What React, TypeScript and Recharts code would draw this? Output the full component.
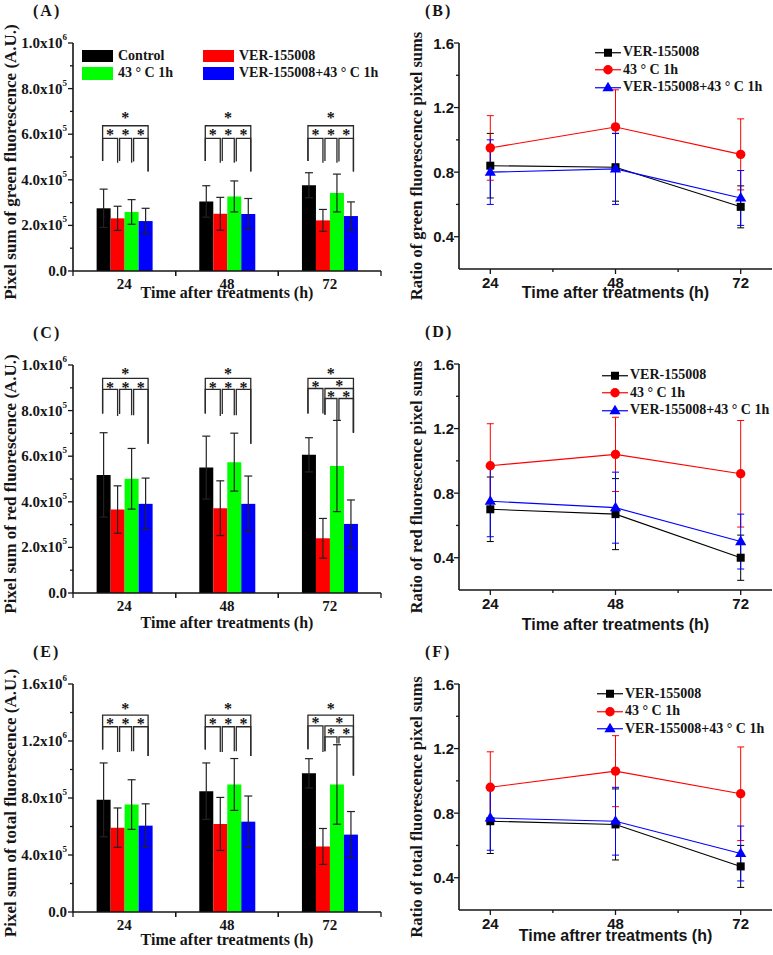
import React from 'react';
import { BarChart, Bar, LineChart, Line, XAxis, YAxis, ErrorBar, Legend } from 'recharts';

const SERIF = '"Liberation Serif", "Times New Roman", serif';
const SANS = '"Liberation Sans", Arial, sans-serif';
const INK = '#151515';

// ---------- data ----------
const TIME_LABELS = ['24', '48', '72'];
const HOURS = [24, 48, 72];

const BAR_NAMES = ['Control', 'VER-155008', '43 ° C 1h', 'VER-155008+43 ° C 1h'];
const BAR_COLORS = ['#000000', '#ff0000', '#00ff00', '#0000ff'];

// (A) pixel sum of green fluorescence
const greenControl = [275000, 305000, 376000];
const greenControlSd = [84000, 69000, 55000];
const greenVer = [231000, 251000, 222000];
const greenVerSd = [53000, 72000, 48000];
const greenHeat = [259000, 327000, 342000];
const greenHeatSd = [54000, 68000, 83000];
const greenCombo = [219000, 250000, 241000];
const greenComboSd = [56000, 68000, 62000];

// (C) pixel sum of red fluorescence
const redControl = [518000, 550000, 606000];
const redControlSd = [185000, 138000, 75000];
const redVer = [366000, 372000, 240000];
const redVerSd = [104000, 120000, 87000];
const redHeat = [501000, 574000, 557000];
const redHeatSd = [133000, 127000, 200000];
const redCombo = [391000, 391000, 303000];
const redComboSd = [113000, 122000, 105000];

// (E) pixel sum of total fluorescence
const totalControl = [787000, 848000, 973000];
const totalControlSd = [259000, 198000, 103000];
const totalVer = [592000, 618000, 460000];
const totalVerSd = [138000, 186000, 126000];
const totalHeat = [754000, 895000, 895000];
const totalHeatSd = [174000, 182000, 279000];
const totalCombo = [606000, 634000, 543000];
const totalComboSd = [153000, 180000, 162000];

const LINE_NAMES = ['VER-155008', '43 ° C 1h', 'VER-155008+43 ° C 1h'];
const LINE_COLORS = ['#000000', '#ff0000', '#0000ff'];

// (B) ratio of green fluorescence pixel sums
const greenRatioVer = [0.84, 0.83, 0.585];
const greenRatioVerSd = [0.2, 0.21, 0.13];
const greenRatioHeat = [0.95, 1.08, 0.91];
const greenRatioHeatSd = [0.2, 0.23, 0.22];
const greenRatioCombo = [0.8, 0.82, 0.64];
const greenRatioComboSd = [0.2, 0.22, 0.17];

// (D) ratio of red fluorescence pixel sums
const redRatioVer = [0.7, 0.67, 0.4];
const redRatioVerSd = [0.2, 0.22, 0.14];
const redRatioHeat = [0.97, 1.04, 0.92];
const redRatioHeatSd = [0.26, 0.23, 0.33];
const redRatioCombo = [0.75, 0.71, 0.5];
const redRatioComboSd = [0.22, 0.22, 0.17];

// (F) ratio of total fluorescence pixel sums
const totalRatioVer = [0.75, 0.73, 0.47];
const totalRatioVerSd = [0.2, 0.22, 0.13];
const totalRatioHeat = [0.96, 1.06, 0.92];
const totalRatioHeatSd = [0.22, 0.22, 0.29];
const totalRatioCombo = [0.77, 0.75, 0.55];
const totalRatioComboSd = [0.2, 0.21, 0.17];

const TICKS_1M = [0, 100000, 200000, 300000, 400000, 500000, 600000, 700000, 800000, 900000, 1000000];
const TICKS_16M = [0, 200000, 400000, 600000, 800000, 1000000, 1200000, 1400000, 1600000];
const RATIO_TICKS = [0.4, 0.6, 0.8, 1.0, 1.2, 1.4, 1.6];
const HOUR_TICKS = [24, 36, 48, 60, 72];

// significance brackets: bar indices, line level, star level, leg ends (data units)
type Bracket = { from: number; to: number; line: number; star: number; legs: number[] };

const bracketsA: Bracket[] = [
  { from: 0, to: 3, line: 637000, star: 684000, legs: [482000, 436000] },
  { from: 0, to: 1, line: 582000, star: 607000, legs: [482000, 475000] },
  { from: 1, to: 2, line: 582000, star: 607000, legs: [482000, 475000] },
  { from: 2, to: 3, line: 582000, star: 607000, legs: [480000, 436000] },
];
const bracketsC: Bracket[] = [
  { from: 0, to: 3, line: 941000, star: 970000, legs: [787000, 655000] },
  { from: 0, to: 1, line: 893000, star: 912000, legs: [787000, 776000] },
  { from: 1, to: 2, line: 893000, star: 912000, legs: [785000, 780000] },
  { from: 2, to: 3, line: 893000, star: 912000, legs: [780000, 655000] },
];
const bracketsC72: Bracket[] = [
  { from: 0, to: 3, line: 941000, star: 970000, legs: [787000, 703000] },
  { from: 0, to: 1, line: 897000, star: 915000, legs: [787000, 787000] },
  { from: 1, to: 3, line: 897000, star: 918000, legs: [782000, 703000] },
  { from: 1, to: 2, line: 853000, star: 872000, legs: [782000, 757000] },
  { from: 2, to: 3, line: 853000, star: 872000, legs: [757000, 703000] },
];
const bracketsE: Bracket[] = [
  { from: 0, to: 3, line: 1381000, star: 1440000, legs: [1140000, 1095000] },
  { from: 0, to: 1, line: 1300000, star: 1335000, legs: [1140000, 1123000] },
  { from: 1, to: 2, line: 1300000, star: 1335000, legs: [1123000, 1128000] },
  { from: 2, to: 3, line: 1300000, star: 1335000, legs: [1128000, 1095000] },
];
const bracketsE72: Bracket[] = [
  { from: 0, to: 3, line: 1381000, star: 1440000, legs: [1142000, 958000] },
  { from: 0, to: 1, line: 1306000, star: 1341000, legs: [1142000, 1123000] },
  { from: 1, to: 3, line: 1306000, star: 1343000, legs: [1128000, 958000] },
  { from: 1, to: 2, line: 1229000, star: 1264000, legs: [1128000, 1182000] },
  { from: 2, to: 3, line: 1229000, star: 1264000, legs: [1182000, 958000] },
];

const barRows = (
  c: number[], cs: number[], v: number[], vs: number[],
  h: number[], hs: number[], k: number[], ks: number[],
) =>
  TIME_LABELS.map((time, i) => ({
    time,
    control: c[i], controlSd: cs[i],
    ver: v[i], verSd: vs[i],
    heat: h[i], heatSd: hs[i],
    combo: k[i], comboSd: ks[i],
  }));

const lineRows = (v: number[], vs: number[], h: number[], hs: number[], k: number[], ks: number[]) =>
  HOURS.map((hour, i) => ({ hour, ver: v[i], verSd: vs[i], heat: h[i], heatSd: hs[i], combo: k[i], comboSd: ks[i] }));

const greenBars = barRows(greenControl, greenControlSd, greenVer, greenVerSd, greenHeat, greenHeatSd, greenCombo, greenComboSd);
const redBars = barRows(redControl, redControlSd, redVer, redVerSd, redHeat, redHeatSd, redCombo, redComboSd);
const totalBars = barRows(totalControl, totalControlSd, totalVer, totalVerSd, totalHeat, totalHeatSd, totalCombo, totalComboSd);

const greenRatio = lineRows(greenRatioVer, greenRatioVerSd, greenRatioHeat, greenRatioHeatSd, greenRatioCombo, greenRatioComboSd);
const redRatio = lineRows(redRatioVer, redRatioVerSd, redRatioHeat, redRatioHeatSd, redRatioCombo, redRatioComboSd);
const totalRatio = lineRows(totalRatioVer, totalRatioVerSd, totalRatioHeat, totalRatioHeatSd, totalRatioCombo, totalRatioComboSd);

// ---------- layout ----------
const BAR_W = 390;
const BAR_H = 314;
const BAR_MARGIN = { top: 43, right: 9, bottom: 0, left: 0 };
const BAR_YW = 73;
const BAR_PLOT_H = 228;
const BAND = (BAR_W - BAR_YW - BAR_MARGIN.right) / 3;

const LINE_W = 383;
const LINE_H = 314;
const LINE_MARGIN = { top: 43, right: 1, bottom: 0, left: 0 };
const LINE_YW = 69;
const LINE_PLOT_H = 226;

const axisLine = { stroke: INK, strokeWidth: 1.6 };

// ---------- ticks ----------
const sciTick = (majorStep: number) => (p: any) => {
  const { x, y, payload } = p;
  const v = payload.value;
  const major = Math.abs(v / majorStep - Math.round(v / majorStep)) < 1e-6;
  let label: React.ReactNode = null;
  if (major) {
    const common = { x: x - 6, y: y + 5, textAnchor: 'end' as const, fontFamily: SERIF, fontWeight: 'bold', fontSize: 15, fill: INK };
    if (v === 0) {
      label = <text {...common}>0.0</text>;
    } else {
      const e = Math.floor(Math.log10(v) + 1e-9);
      const m = (v / Math.pow(10, e)).toFixed(1);
      label = (
        <text {...common}>
          {m}x10
          <tspan dy={-8} fontSize={9}>{e}</tspan>
        </text>
      );
    }
  }
  return (
    <g>
      <line x1={x - (major ? 5 : 3)} x2={x} y1={y} y2={y} stroke={INK} strokeWidth={1.3} />
      {label}
    </g>
  );
};

const ratioTick = (p: any) => {
  const { x, y, payload } = p;
  const v = payload.value;
  const major = Math.round(v * 10) % 4 === 0;
  return (
    <g>
      <line x1={x - (major ? 5 : 3)} x2={x} y1={y} y2={y} stroke={INK} strokeWidth={1.3} />
      {major && (
        <text x={x - 5} y={y + 5.5} textAnchor="end" fontFamily={SANS} fontWeight="bold" fontSize={15} fill={INK}>
          {v.toFixed(1)}
        </text>
      )}
    </g>
  );
};

const bandTick = (p: any) => {
  const { x, y, payload } = p;
  return (
    <g>
      <line x1={x - BAND / 2} x2={x - BAND / 2} y1={y} y2={y + 5} stroke={INK} strokeWidth={1.3} />
      <line x1={x + BAND / 2} x2={x + BAND / 2} y1={y} y2={y + 5} stroke={INK} strokeWidth={1.3} />
      <text x={x} y={y + 18} textAnchor="middle" fontFamily={SERIF} fontWeight="bold" fontSize={15} fill={INK}>
        {payload.value}
      </text>
    </g>
  );
};

const hourTick = (p: any) => {
  const { x, y, payload } = p;
  const major = payload.value % 24 === 0;
  return (
    <g>
      <line x1={x} x2={x} y1={y} y2={y + (major ? 5 : 3)} stroke={INK} strokeWidth={1.3} />
      {major && (
        <text x={x} y={y + 18.5} textAnchor="middle" fontFamily={SANS} fontWeight="bold" fontSize={15} fill={INK}>
          {payload.value}
        </text>
      )}
    </g>
  );
};

const xTitle = (text: string, family: string, dy: number) => ({
  content: (p: any) => {
    const vb = p.viewBox;
    return (
      <text x={vb.x + vb.width / 2} y={vb.y + dy} textAnchor="middle" fontFamily={family} fontWeight="bold" fontSize={16} fill={INK}>
        {text}
      </text>
    );
  },
});

const yTitle = (text: string, cx: number, shift: number, size: number) => ({
  content: (p: any) => {
    const vb = p.viewBox;
    const cy = vb.y + vb.height / 2 + shift;
    return (
      <text
        x={cx}
        y={cy}
        transform={`rotate(-90 ${cx} ${cy})`}
        textAnchor="middle"
        dominantBaseline="central"
        fontFamily={SERIF}
        fontWeight="bold"
        fontSize={size}
        fill={INK}
      >
        {text}
      </text>
    );
  },
});

// ---------- marks ----------
const comboShape = (groups: Bracket[][]) => (p: any) => {
  const { x, y, width, height, index, payload } = p;
  const base = y + height;
  const perUnit = height / payload.combo;
  const yv = (v: number) => base - v * perUnit;
  const cx = (i: number) => x + width / 2 - (3 - i) * width;
  const startX = (i: number) => cx(i) + (i === 0 ? -1 : 2);
  const endX = (i: number) => cx(i) + (i === 3 ? 2.5 : 0);
  return (
    <g>
      <rect x={x} y={y} width={width} height={height} fill={BAR_COLORS[3]} />
      {(groups[index] || []).map((b, j) => {
        const x1 = startX(b.from);
        const x2 = endX(b.to);
        return (
          <g key={j}>
            <path
              d={`M${x1},${yv(b.legs[0])}V${yv(b.line)}H${x2}V${yv(b.legs[1])}`}
              fill="none"
              stroke="#2a2a2a"
              strokeWidth={1.3}
            />
            <text x={(x1 + x2) / 2} y={yv(b.star) + 7.5} textAnchor="middle" fontFamily={SERIF} fontWeight="bold" fontSize={16} fill={INK}>
              *
            </text>
          </g>
        );
      })}
    </g>
  );
};

const marker = (i: number, cx: number, cy: number, key?: string) => {
  if (i === 0) return <rect key={key} x={cx - 4} y={cy - 4} width={8} height={8} fill={LINE_COLORS[0]} />;
  if (i === 1) return <circle key={key} cx={cx} cy={cy} r={4.7} fill={LINE_COLORS[1]} />;
  return <path key={key} d={`M${cx},${cy - 6}L${cx + 5.6},${cy + 3.6}L${cx - 5.6},${cy + 3.6}Z`} fill={LINE_COLORS[2]} />;
};

const dotFor = (i: number) => (p: any) => marker(i, p.cx, p.cy, `m${i}-${p.index}`);

// ---------- legends ----------
const barLegend = () => (
  <div style={{ display: 'grid', gridTemplateColumns: '121px 180px', fontFamily: SERIF, fontWeight: 'bold', fontSize: 14, color: INK }}>
    {BAR_NAMES.map((n, i) => (
      <div key={n} style={{ display: 'flex', alignItems: 'center', height: 17.5 }}>
        <span style={{ display: 'inline-block', width: 31, height: 12.5, background: BAR_COLORS[i], marginRight: 5 }} />
        <span style={{ whiteSpace: 'nowrap' }}>{n}</span>
      </div>
    ))}
  </div>
);

const lineLegend = () => (
  <div style={{ fontFamily: SERIF, fontWeight: 'bold', fontSize: 14, color: INK }}>
    {LINE_NAMES.map((n, i) => (
      <div key={n} style={{ display: 'flex', alignItems: 'center', height: 17.5 }}>
        <svg width={26} height={17.5} style={{ display: 'block' }}>
          <line x1={0} x2={26} y1={8.75} y2={8.75} stroke={LINE_COLORS[i]} strokeWidth={1.2} />
          {marker(i, 13, 8.75)}
        </svg>
        <span style={{ marginLeft: 2, whiteSpace: 'nowrap' }}>{n}</span>
      </div>
    ))}
  </div>
);

// ---------- panels ----------
const letterStyle = (left: number, top: number): React.CSSProperties => ({
  position: 'absolute',
  left,
  top,
  fontFamily: SERIF,
  fontWeight: 'bold',
  fontSize: 16,
  lineHeight: '16px',
  letterSpacing: 2,
  color: INK,
  zIndex: 2,
});

type BarPanelProps = {
  top: number;
  letter: string;
  data: any[];
  yMax: number;
  ticks: number[];
  majorStep: number;
  title: string;
  brackets: Bracket[][];
  legend?: boolean;
  xTitleDy: number;
};

function BarPanel({ top, letter, data, yMax, ticks, majorStep, title, brackets, legend, xTitleDy }: BarPanelProps) {
  const keys = ['control', 'ver', 'heat'];
  return (
    <div style={{ position: 'absolute', left: 0, top, width: BAR_W, height: BAR_H }}>
      <div style={letterStyle(33, 2.5)}>({letter})</div>
      <BarChart width={BAR_W} height={BAR_H} data={data} margin={BAR_MARGIN} barCategoryGap="23%" barGap={0}>
        <XAxis
          dataKey="time"
          interval={0}
          tickLine={false}
          tickSize={0}
          tickMargin={0}
          height={BAR_H - BAR_MARGIN.top - BAR_PLOT_H}
          axisLine={axisLine}
          tick={bandTick}
          label={xTitle('Time after treatments (h)', SERIF, xTitleDy)}
        />
        <XAxis xAxisId="frame" orientation="top" dataKey="time" height={0} tick={false} tickLine={false} axisLine={axisLine} />
        <YAxis
          domain={[0, yMax]}
          ticks={ticks}
          interval={0}
          width={BAR_YW}
          tickLine={false}
          tickSize={0}
          tickMargin={0}
          axisLine={axisLine}
          tick={sciTick(majorStep)}
          label={yTitle(title, 10, 5, 17)}
        />
        <YAxis yAxisId="frame" orientation="right" width={0} domain={[0, 1]} tick={false} tickLine={false} axisLine={axisLine} />
        {legend && (
          <Legend
            layout="horizontal"
            verticalAlign="middle"
            align="center"
            content={barLegend}
            wrapperStyle={{ left: 82, top: 47, width: 301 }}
          />
        )}
        {keys.map((k, i) => (
          <Bar key={k} dataKey={k} name={BAR_NAMES[i]} fill={BAR_COLORS[i]} isAnimationActive={false}>
            <ErrorBar dataKey={`${k}Sd`} width={4} stroke="#222" strokeWidth={1.2} direction="y" />
          </Bar>
        ))}
        <Bar dataKey="combo" name={BAR_NAMES[3]} fill={BAR_COLORS[3]} shape={comboShape(brackets)} isAnimationActive={false}>
          <ErrorBar dataKey="comboSd" width={4} stroke="#222" strokeWidth={1.2} direction="y" />
        </Bar>
      </BarChart>
    </div>
  );
}

type LinePanelProps = {
  top: number;
  letter: string;
  data: any[];
  title: string;
  xTitle: string;
  xTitleDy: number;
  legendLeft: number;
  legendTop: number;
};

function LinePanel({ top, letter, data, title, xTitle: xt, xTitleDy, legendLeft, legendTop }: LinePanelProps) {
  const keys = ['ver', 'heat', 'combo'];
  return (
    <div style={{ position: 'absolute', left: 390, top, width: LINE_W, height: LINE_H }}>
      <div style={letterStyle(35, 2.5)}>({letter})</div>
      <LineChart width={LINE_W} height={LINE_H} data={data} margin={LINE_MARGIN}>
        <XAxis
          dataKey="hour"
          type="number"
          domain={[18, 78]}
          ticks={HOUR_TICKS}
          interval={0}
          allowDataOverflow
          tickLine={false}
          tickSize={0}
          tickMargin={0}
          height={LINE_H - LINE_MARGIN.top - LINE_PLOT_H}
          axisLine={axisLine}
          tick={hourTick}
          label={xTitle(xt, SANS, xTitleDy)}
        />
        <XAxis xAxisId="frame" orientation="top" dataKey="hour" type="number" domain={[18, 78]} height={0} tick={false} tickLine={false} axisLine={axisLine} />
        <YAxis
          domain={[0.2, 1.6]}
          ticks={RATIO_TICKS}
          interval={0}
          allowDataOverflow
          width={LINE_YW}
          tickLine={false}
          tickSize={0}
          tickMargin={0}
          axisLine={axisLine}
          tick={ratioTick}
          label={yTitle(title, 26.5, 10, 16.5)}
        />
        <YAxis yAxisId="frame" orientation="right" width={0} domain={[0, 1]} tick={false} tickLine={false} axisLine={axisLine} />
        <Legend
          layout="horizontal"
          verticalAlign="middle"
          align="center"
          content={lineLegend}
          wrapperStyle={{ left: legendLeft, top: legendTop, width: 176 }}
        />
        {keys.map((k, i) => (
          <Line
            key={k}
            dataKey={k}
            name={LINE_NAMES[i]}
            stroke={LINE_COLORS[i]}
            strokeWidth={1.1}
            dot={dotFor(i)}
            activeDot={false}
            isAnimationActive={false}
          >
            <ErrorBar dataKey={`${k}Sd`} width={3.5} stroke={LINE_COLORS[i]} strokeWidth={1} direction="y" />
          </Line>
        ))}
      </LineChart>
    </div>
  );
}

export default function App() {
  return (
    <div style={{ position: 'absolute', left: 0, top: 0, width: 773, height: 955, background: '#fff', overflow: 'hidden' }}>
      <BarPanel
        top={0}
        letter="A"
        data={greenBars}
        yMax={1000000}
        ticks={TICKS_1M}
        majorStep={200000}
        title="Pixel sum of green fluorescence (A.U.)"
        brackets={[bracketsA, bracketsA, bracketsA]}
        legend
        xTitleDy={27}
      />
      <BarPanel
        top={322}
        letter="C"
        data={redBars}
        yMax={1000000}
        ticks={TICKS_1M}
        majorStep={200000}
        title="Pixel sum of red fluorescence (A.U.)"
        brackets={[bracketsC, bracketsC, bracketsC72]}
        xTitleDy={35}
      />
      <BarPanel
        top={641}
        letter="E"
        data={totalBars}
        yMax={1600000}
        ticks={TICKS_16M}
        majorStep={400000}
        title="Pixel sum of total fluorescence (A.U.)"
        brackets={[bracketsE, bracketsE, bracketsE72]}
        xTitleDy={33}
      />
      <LinePanel
        top={0}
        letter="B"
        data={greenRatio}
        title="Ratio of green fluorescence pixel sums"
        xTitle="Time after treatments (h)"
        xTitleDy={29}
        legendLeft={205}
        legendTop={43.5}
      />
      <LinePanel
        top={321}
        letter="D"
        data={redRatio}
        title="Ratio of red fluorescence pixel sums"
        xTitle="Time after treatments (h)"
        xTitleDy={40}
        legendLeft={212}
        legendTop={45.5}
      />
      <LinePanel
        top={641}
        letter="F"
        data={totalRatio}
        title="Ratio of total fluorescence pixel sums"
        xTitle="Time aftrer treatments (h)"
        xTitleDy={31}
        legendLeft={207}
        legendTop={44}
      />
    </div>
  );
}
